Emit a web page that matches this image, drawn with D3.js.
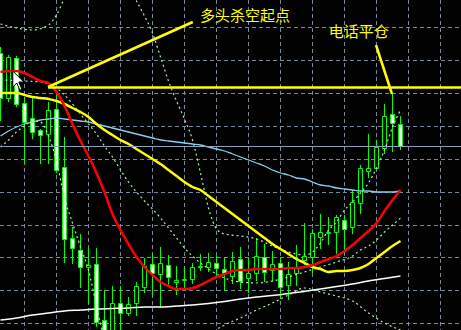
<!DOCTYPE html>
<html>
<head>
<meta charset="utf-8">
<script src="https://cdn.jsdelivr.net/npm/d3@7"></script>
<style>
  body { margin: 0; background: #000; }
  svg { display: block; }
</style>
</head>
<body>
<div id="chart"></div>
<script>

// one bar per period, left to right (index 0..50)
var opens = [1.2947, 1.2902, 1.2942, 1.2897, 1.2882, 1.2870, 1.2866, 1.2891, 1.2833, 1.2762,
  1.2750, 1.2733, 1.2736, 1.2680, 1.2668, 1.2697, 1.2687, 1.2697, 1.2713, 1.2736,
  1.2726, 1.2735, 1.2718, 1.27205, 1.2721, 1.2733, 1.2733, 1.2737, 1.2731, 1.2724,
  1.2741, 1.2722, 1.2727, 1.2743, 1.2730, 1.2737, 1.2715, 1.2727, 1.2740, 1.2743,
  1.2763, 1.2767, 1.2768, 1.2780, 1.2773, 1.2797, 1.2829, 1.2832, 1.2852, 1.2886,
  1.2876];
var highs = [1.2953, 1.2945, 1.2944, 1.2903, 1.2902, 1.2871, 1.2898, 1.2905, 1.2863, 1.2773,
  1.2766, 1.2752, 1.2752, 1.2710, 1.2714, 1.2714, 1.2703, 1.2718, 1.2742, 1.2747,
  1.2753, 1.2745, 1.2734, 1.2733, 1.2737, 1.2746, 1.2747, 1.2744, 1.2743, 1.2748,
  1.2753, 1.2742, 1.2762, 1.2756, 1.2749, 1.2743, 1.2738, 1.2755, 1.2777, 1.2771,
  1.2786, 1.2783, 1.2785, 1.2785, 1.2810, 1.2835, 1.2866, 1.2860, 1.2896, 1.2907,
  1.2884];
var lows = [1.2880, 1.2899, 1.2894, 1.2837, 1.2862, 1.2837, 1.2837, 1.2828, 1.2738, 1.2737,
  1.2713, 1.2697, 1.2674, 1.2660, 1.2665, 1.2668, 1.2685, 1.2685, 1.2708, 1.2706,
  1.2693, 1.2715, 1.2706, 1.2713, 1.2717, 1.2730, 1.2729, 1.2723, 1.2710, 1.2717,
  1.2712, 1.2708, 1.2720, 1.2719, 1.2720, 1.2702, 1.2701, 1.2715, 1.2736, 1.2728,
  1.2752, 1.2756, 1.2747, 1.2747, 1.2767, 1.2787, 1.2823, 1.2832, 1.2847, 1.2849,
  1.2851];
var closes = [1.2902, 1.2943, 1.2896, 1.2878, 1.2868, 1.2865, 1.2890, 1.2830, 1.2761, 1.2752,
  1.2733, 1.2735, 1.2678, 1.2662, 1.2697, 1.2687, 1.2696, 1.2714, 1.2734, 1.2727,
  1.2737, 1.2723, 1.2720, 1.2721, 1.2733, 1.27335, 1.2738, 1.2732, 1.2727, 1.2739,
  1.2719, 1.2727, 1.2744, 1.2728, 1.2736, 1.2713, 1.2726, 1.2732, 1.2744, 1.2767,
  1.2768, 1.27675, 1.2783, 1.2771, 1.2798, 1.2832, 1.2832, 1.2853, 1.2884, 1.2877,
  1.2854];

// moving averages, one value per bar
var redMA = [1.2928, 1.2929, 1.2929, 1.2927, 1.2923, 1.2919, 1.2917, 1.2908, 1.2894, 1.2876,
  1.2859, 1.2844, 1.2827, 1.2808, 1.2786, 1.2770, 1.2756, 1.2743, 1.2733, 1.2725,
  1.2718, 1.2714, 1.2711, 1.2711, 1.2712, 1.2715, 1.2719, 1.2723, 1.2726, 1.2729,
  1.2730, 1.2730, 1.2731, 1.2731, 1.2731, 1.2731, 1.2732, 1.2732, 1.2733, 1.2735,
  1.2738, 1.2741, 1.2744, 1.2749, 1.2755, 1.2762, 1.2769, 1.2777, 1.2789, 1.2800,
  1.2810];
var yellowMA = [1.2907, 1.2907, 1.2907, 1.2905, 1.2903, 1.2902, 1.2901, 1.2899, 1.2896, 1.2892,
  1.2888, 1.2883, 1.2876, 1.2870, 1.2865, 1.2860, 1.2856, 1.2851, 1.2846, 1.2841,
  1.2836, 1.2830, 1.2824, 1.2818, 1.2813, 1.2810, 1.2804, 1.2798, 1.2792, 1.2786,
  1.2780, 1.2774, 1.2768, 1.2762, 1.2756, 1.2751, 1.2746, 1.2741, 1.2737, 1.2733,
  1.2731, 1.2728, 1.2729, 1.2729, 1.2730, 1.2732, 1.2736, 1.2742, 1.2748, 1.2754,
  1.2759];
var blueMA = [1.2864, 1.2869, 1.2873, 1.2876, 1.2878, 1.2880, 1.2881, 1.2882, 1.2881, 1.2880,
  1.2879, 1.2878, 1.2876, 1.2874, 1.2872, 1.2870, 1.2868, 1.2866, 1.2864, 1.2862,
  1.2860, 1.2859, 1.2858, 1.2857, 1.2856, 1.2855, 1.2853, 1.2851, 1.2849, 1.2846,
  1.2843, 1.2840, 1.2837, 1.2834, 1.2830, 1.2827, 1.2825, 1.2822, 1.2821, 1.2818,
  1.2815, 1.2814, 1.2812, 1.2811, 1.2810, 1.2809, 1.2809, 1.2808, 1.2808, 1.2808,
  1.2809];

// slow MA, read every second bar
var whiteIdx = [0, 2, 4, 6, 8, 10, 12, 14, 16, 18, 20, 22, 24, 26, 28, 30, 32, 34, 36, 38, 40, 42, 44, 46, 48, 50];
var whiteMA = [1.2680, 1.2682, 1.2685, 1.2687, 1.2689, 1.2690, 1.2691, 1.26915, 1.2692, 1.2693,
  1.2693, 1.2694, 1.2695, 1.26965, 1.26985, 1.2701, 1.2703, 1.27045, 1.27065, 1.27085,
  1.2711, 1.27135, 1.2716, 1.2719, 1.27215, 1.2724];

// bollinger bands (dotted)
var upperIdx = [0, 2, 4, 6, 7, 8, 10, 12, 14, 16, 17, 18, 19, 20, 21, 22, 23, 24, 25, 26, 27, 28,
  30, 32, 34, 36, 38, 39, 40, 41, 42, 43, 44, 45, 46, 47, 48, 49, 50];
var upperBand = [1.2976, 1.2972, 1.2970, 1.2975, 1.2985, 1.3002, 1.3030, 1.3045, 1.3040, 1.3015,
  1.2999, 1.2984, 1.2967, 1.2943, 1.2919, 1.2899, 1.2881, 1.2860, 1.2827, 1.2792,
  1.2771, 1.2766, 1.2764, 1.2761, 1.2754, 1.2748, 1.2745, 1.2748, 1.2757, 1.2770,
  1.2778, 1.2790, 1.2798, 1.2807, 1.2817, 1.2832, 1.2850, 1.2873, 1.2890];
var midIdx = [0, 3, 5, 6, 7, 8, 10, 11, 12, 13, 14, 15, 16, 17, 18, 19, 20, 21, 22, 23, 24, 25,
  26, 28, 30, 32, 34, 36, 38, 40, 42, 44, 45, 46, 47, 48, 49, 50];
var midBand = [1.2920, 1.2919, 1.2918, 1.2916, 1.2912, 1.2905, 1.2886, 1.2876, 1.2866, 1.2854,
  1.2843, 1.2830, 1.2818, 1.2808, 1.2799, 1.2791, 1.2782, 1.2772, 1.2762, 1.2752,
  1.2744, 1.2737, 1.2731, 1.2722, 1.2718, 1.2717, 1.2719, 1.2723, 1.2728, 1.2733,
  1.2738, 1.2744, 1.2750, 1.2754, 1.2760, 1.2768, 1.2775, 1.2782];
var lowerIdx = [0, 1, 2, 3, 4, 5, 6, 7, 8, 9, 10, 11, 12, 13, 15, 18, 22, 26, 27, 28, 30, 32,
  34, 36, 38, 40, 42, 44, 46, 48, 50];
var lowerBand = [1.2853, 1.2860, 1.2868, 1.2874, 1.2879, 1.2878, 1.2864, 1.2839, 1.2802, 1.2777,
  1.2753, 1.2730, 1.2694, 1.2660, 1.2630, 1.2620, 1.2640, 1.2660, 1.2670, 1.2675,
  1.2682, 1.2690, 1.2697, 1.2705, 1.2712, 1.2708, 1.2704, 1.2699, 1.2687, 1.2677,
  1.2670];

// grid levels and grid bars
var gridPrices = [1.2973, 1.2940, 1.2907, 1.2874, 1.2841, 1.2808, 1.2775, 1.2743, 1.2710, 1.2677];
var gridBars = [3, 7, 11, 15, 19, 23, 27, 31, 35, 39, 43, 47, 51, 55];

// hand drawn objects
var resistLevel = 1.29125;
var resistStart = 6;
var fanLine = [[6, 1.2913], [24.1, 1.2978]];
var exitLine = [[47, 1.2955], [49, 1.2906]];
var greyLevel = 1.2854;
var labels = [
  {text: "多头杀空起点", bar: 25, price: 1.2979},
  {text: "电话平仓", bar: 41.1, price: 1.2963}
];

function drawChart() {

  var width = 461,
    height = 330;

  var x = d3.scaleLinear().domain([0, width / 8]).range([0, width]);
  var y = d3.scaleLinear().domain([1.2670, 1.3000]).range([height, 0]);

  var svg = d3.select("#chart").append("svg")
    .attr("width", width)
    .attr("height", height)
    .style("background", "#000");

  var crisp = function(v) { return Math.round(v) + 0.5; };

  // dashed grid
  var grid = svg.append("g")
    .attr("stroke", "#778899")
    .attr("stroke-width", 1)
    .attr("stroke-dasharray", "4,3");

  grid.selectAll("line.h").data(gridPrices).enter().append("line")
    .attr("class", "h")
    .attr("x1", 0).attr("x2", width)
    .attr("y1", function(d) { return crisp(y(d)); })
    .attr("y2", function(d) { return crisp(y(d)); });

  grid.selectAll("line.v").data(gridBars).enter().append("line")
    .attr("class", "v")
    .attr("y1", 0).attr("y2", height)
    .attr("x1", function(d) { return crisp(x(d)); })
    .attr("x2", function(d) { return crisp(x(d)); });

  // candles
  var bars = opens.map(function(o, i) {
    return {i: i, o: o, h: highs[i], l: lows[i], c: closes[i]};
  });

  var candles = svg.append("g").attr("class", "candles");

  candles.selectAll("line").data(bars).enter().append("line")
    .attr("x1", function(d) { return crisp(x(d.i)); })
    .attr("x2", function(d) { return crisp(x(d.i)); })
    .attr("y1", function(d) { return Math.round(y(d.h)); })
    .attr("y2", function(d) { return Math.round(y(d.l)) + 1; })
    .attr("stroke", "#00ff00")
    .attr("stroke-width", 1);

  candles.selectAll("path").data(bars).enter().append("path")
    .attr("d", function(d) {
      var cx = Math.round(x(d.i));
      var top = crisp(y(Math.max(d.o, d.c)));
      var bot = crisp(y(Math.min(d.o, d.c)));
      return "M" + (cx - 1.5) + "," + top + "H" + (cx + 2.5) + "V" + bot + "H" + (cx - 1.5) + "Z";
    })
    .attr("fill", function(d) { return d.c < d.o ? "#ffffff" : "#000000"; })
    .attr("stroke", "#00ff00")
    .attr("stroke-width", 1);

  // indicator lines
  var line = d3.line()
    .x(function(d) { return x(d[0]) + 0.5; })
    .y(function(d) { return y(d[1]); })
    .curve(d3.curveMonotoneX);

  function pairs(idx, vals) {
    return vals.map(function(v, i) { return [idx[i], v]; });
  }
  var allIdx = bars.map(function(d) { return d.i; });

  [pairs(upperIdx, upperBand), pairs(midIdx, midBand), pairs(lowerIdx, lowerBand)].forEach(function(p) {
    svg.append("path")
      .attr("d", line(p))
      .attr("fill", "none")
      .attr("stroke", "#a8f5a8")
      .attr("stroke-width", 1.2)
      .attr("stroke-dasharray", "2,3");
  });

  svg.append("path")
    .attr("d", line(pairs(whiteIdx, whiteMA)))
    .attr("fill", "none")
    .attr("stroke", "#ffffff")
    .attr("stroke-width", 1.5);

  svg.append("path")
    .attr("d", line(pairs(allIdx, blueMA)))
    .attr("fill", "none")
    .attr("stroke", "#87ceeb")
    .attr("stroke-width", 1.3);

  svg.append("path")
    .attr("d", line(pairs(allIdx, yellowMA)))
    .attr("fill", "none")
    .attr("stroke", "#ffff00")
    .attr("stroke-width", 2.5);

  svg.append("path")
    .attr("d", line(pairs(allIdx, redMA)))
    .attr("fill", "none")
    .attr("stroke", "#ff0000")
    .attr("stroke-width", 2.5);

  // objects
  svg.append("line")
    .attr("x1", 0).attr("x2", width)
    .attr("y1", crisp(y(greyLevel))).attr("y2", crisp(y(greyLevel)))
    .attr("stroke", "#8ca3bd")
    .attr("stroke-width", 1);

  svg.append("line")
    .attr("x1", x(resistStart)).attr("x2", width)
    .attr("y1", y(resistLevel)).attr("y2", y(resistLevel))
    .attr("stroke", "#ffff00")
    .attr("stroke-width", 2.5);

  [fanLine, exitLine].forEach(function(p) {
    svg.append("line")
      .attr("x1", x(p[0][0])).attr("y1", y(p[0][1]))
      .attr("x2", x(p[1][0])).attr("y2", y(p[1][1]))
      .attr("stroke", "#ffff00")
      .attr("stroke-width", 2.5);
  });

  svg.selectAll("text.label").data(labels).enter().append("text")
    .attr("class", "label")
    .attr("x", function(d) { return x(d.bar); })
    .attr("y", function(d) { return y(d.price); })
    .attr("fill", "#ffff00")
    .style("font-family", "'Noto Sans CJK SC', sans-serif")
    .style("font-size", "15px")
    .text(function(d) { return d.text; });

  // mouse pointer left on the chart
  var tipX = x(1.6), tipY = y(1.2929);
  svg.append("path")
    .attr("d", "M0,0 L0,16 L4,12 L7,19 L9,18 L6,11 L11,11 Z")
    .attr("transform", "translate(" + tipX + "," + tipY + ")")
    .attr("fill", "#ffffff")
    .attr("stroke", "#000000")
    .attr("stroke-width", 1);
}

drawChart();
</script>
</body>
</html>
